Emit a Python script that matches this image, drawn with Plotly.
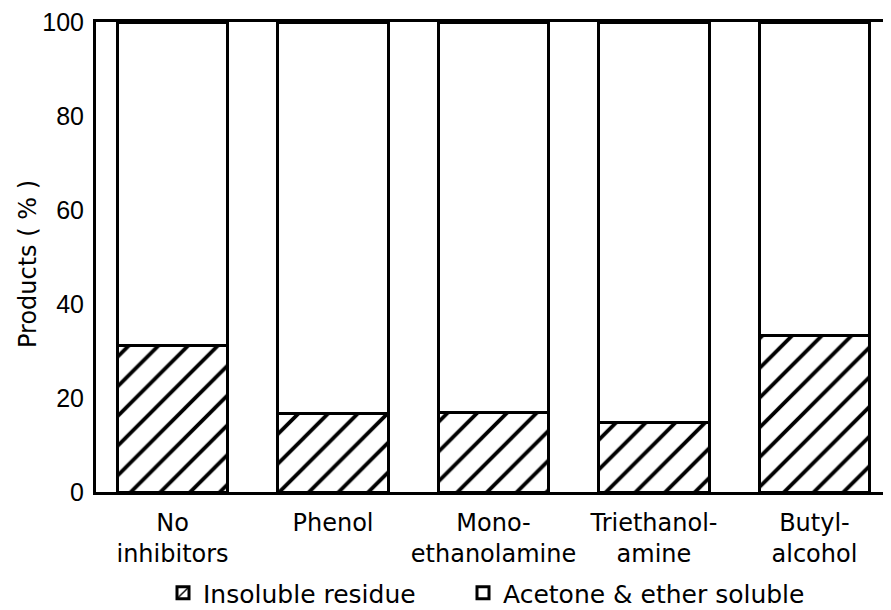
import plotly.graph_objects as go

categories = ["No<br>inhibitors", "Phenol", "Mono-<br>ethanolamine", "Triethanol-<br>amine", "Butyl-<br>alcohol"]
insoluble = [31.2, 16.8, 17.0, 14.7, 33.4]
soluble = [100 - v for v in insoluble]
y_ticks = [0, 20, 40, 60, 80, 100]

SANS = "Liberation Sans, Arial, sans-serif"
WIDE = "DejaVu Sans, Verdana, sans-serif"
x_idx = list(range(len(categories)))

# page has an 8px body margin; figure sized so it fits the 891x610 window
W, H = 883, 602
L, T, R, B = 88, 14, 0, 118
plot_w, plot_h = W - L - R, H - T - B

fig = go.Figure()
fig.add_trace(go.Bar(
    x=x_idx, y=insoluble, name="Insoluble residue", width=0.69, legend="legend",
    marker=dict(color="white", line=dict(color="black", width=3),
                pattern=dict(shape="/", fgcolor="black", bgcolor="white", size=21,
                             solidity=0.18, fgopacity=1)),
))
fig.add_trace(go.Bar(
    x=x_idx, y=soluble, name="Acetone & ether soluble", width=0.69, legend="legend2",
    marker=dict(color="white", line=dict(color="black", width=3)),
))

leg_y = (T + plot_h - 585) / plot_h
common_leg = dict(orientation="h", y=leg_y, xanchor="left", yanchor="middle",
                  font=dict(family=WIDE, size=25), bgcolor="rgba(0,0,0,0)")

fig.update_layout(
    barmode="stack",
    width=W, height=H,
    margin=dict(l=L, r=R, t=T, b=B, autoexpand=False),
    paper_bgcolor="white", plot_bgcolor="white",
    font=dict(family=WIDE, size=24, color="black"),
    showlegend=True,
    legend=dict(x=(155 - L) / plot_w, **common_leg),
    legend2=dict(x=(455 - L) / plot_w, **common_leg),
    xaxis=dict(range=[-0.477, 4.477], tickmode="array", tickvals=x_idx, ticktext=categories,
               showline=True, linecolor="black", linewidth=3, mirror=True,
               ticks="", showgrid=False, zeroline=False,
               tickfont=dict(family=WIDE, size=24), ticklabelstandoff=7),
    yaxis=dict(range=[0, 100], tickmode="array", tickvals=y_ticks,
               showline=True, linecolor="black", linewidth=3,
               ticks="", showgrid=False, zeroline=False, ticklabeloverflow="allow",
               tickfont=dict(family=SANS, size=25), ticklabelstandoff=4),
    annotations=[dict(text="Products ( % )", textangle=-90,
                      x=(20 - L) / plot_w, y=(T + plot_h - 256) / plot_h,
                      xref="paper", yref="paper", xanchor="center", yanchor="middle",
                      showarrow=False, font=dict(family=WIDE, size=24))],
)

fig.write_html("out.html")
